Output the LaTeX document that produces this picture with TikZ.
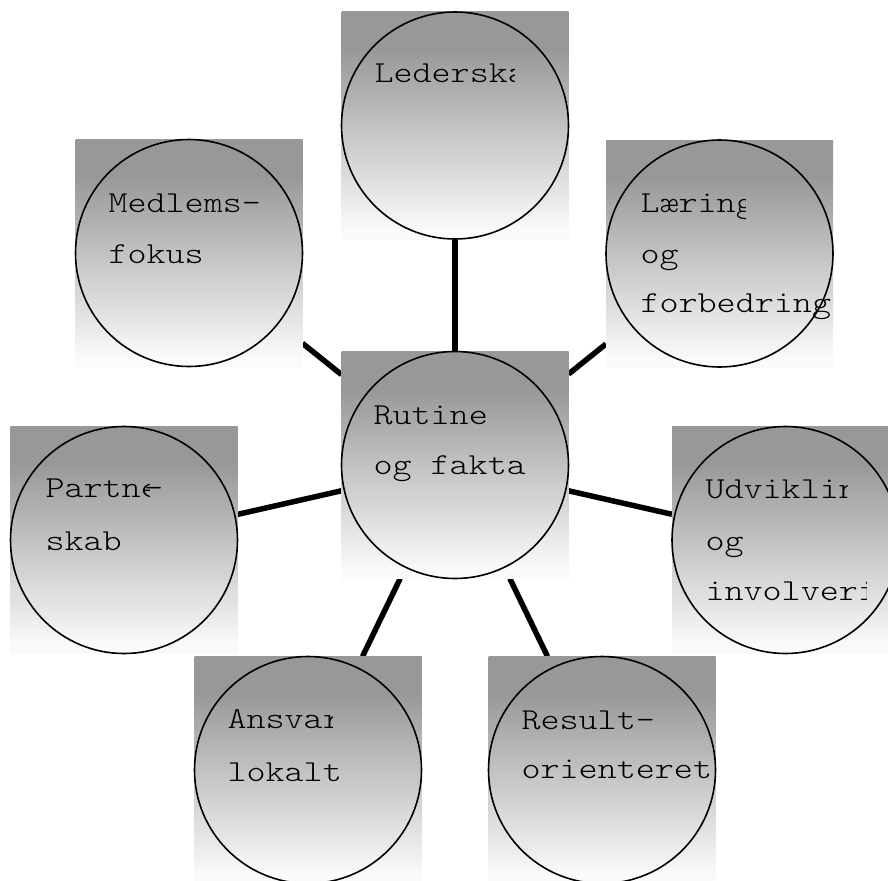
\documentclass[tikz,border=0pt]{standalone}
\usepackage{fontspec}
\usetikzlibrary{backgrounds}
\newfontfamily\tilefont[FakeStretch=1.19]{Latin Modern Mono Light}
\definecolor{tilegray}{RGB}{152,152,152}
% vertical fade of each tile: grey at the top, white at the bottom
\pgfdeclareverticalshading{tilefade}{100bp}{color(0bp)=(white); color(27bp)=(white!98!black); color(67bp)=(tilegray); color(100bp)=(tilegray)}
\begin{document}
\begin{tikzpicture}[x=1pt, y=-1pt,
  tile/.style={rectangle, minimum size=227pt, inner sep=0pt, outer sep=0pt, shade, shading=tilefade},
  ring/.style={draw=black, line width=1.6pt},
  link/.style={draw=black, line width=5.5pt},
  word/.style={anchor=base west, inner sep=0pt, outer sep=0pt, text=black,
    font=\tilefont\fontsize{30.5}{33}\selectfont}]
\useasboundingbox (0,0) rectangle (888,880);

% tiles
\node[tile] (hub)     at (455,465)     {};
\node[tile] (lead)    at (455,125.5)   {};
\node[tile] (memb)    at (189,253)     {};
\node[tile] (learn)   at (719.5,253.5) {};
\node[tile] (partner) at (124,540)     {};
\node[tile] (devel)   at (785.5,540)   {};
\node[tile] (resp)    at (308,770)     {};
\node[tile] (result)  at (602,770)     {};

% circles inscribed in the tiles
\foreach \n in {hub,lead,memb,learn,partner,devel,resp,result}
  \draw[ring] (\n.center) circle[radius=113.5pt];

% spokes from the hub
\begin{scope}[on background layer]
  \foreach \n in {lead,learn,devel,result,resp,partner,memb}
    \draw[link] (hub) -- (\n);
\end{scope}

% labels
\begin{scope}
  \clip (lead.north west) rectangle (514,240);
  \node[word] (lead-a) at (374.5,83) {Lederskab};
\end{scope}

\node[word] (memb-a) at (108.5,212) {Medlems-};
\node[word] (memb-b) at (108.5,263) {fokus};

\begin{scope}
  \clip (learn.north west) rectangle (745,370);
  \node[word] (learn-a) at (640.5,212) {Læring};
\end{scope}
\node[word] (learn-b) at (640.5,263) {og};
\node[word] (learn-c) at (640.5,312) {forbedring};

\node[word] (hub-a) at (373.5,424) {Rutine};
\node[word] (hub-b) at (373.5,474) {og fakta};

\begin{scope}
  \clip (partner.north west) rectangle (149,660);
  \node[word] (partner-a) at (45.5,497) {Partner};
\end{scope}
\node[word] (partner-h) at (144,497) {-};
\node[word] (partner-b) at (45.5,550) {skab};

\begin{scope}
  \clip (devel.north west) rectangle (847,520);
  \node[word] (devel-a) at (705.5,498) {Udvikling};
\end{scope}
\node[word] (devel-b) at (705.5,550) {og};
\begin{scope}
  \clip (672,560) rectangle (866,660);
  \node[word] (devel-c) at (705.5,600) {involvering};
\end{scope}

\begin{scope}
  \clip (resp.north west) rectangle (332,750);
  \node[word] (resp-a) at (227.5,728) {Ansvar};
\end{scope}
\node[word] (resp-b) at (227.5,781) {lokalt};

\node[word] (result-a) at (521.5,729) {Result-};
\node[word] (result-b) at (521.5,778) {orienteret};
\end{tikzpicture}
\end{document}
